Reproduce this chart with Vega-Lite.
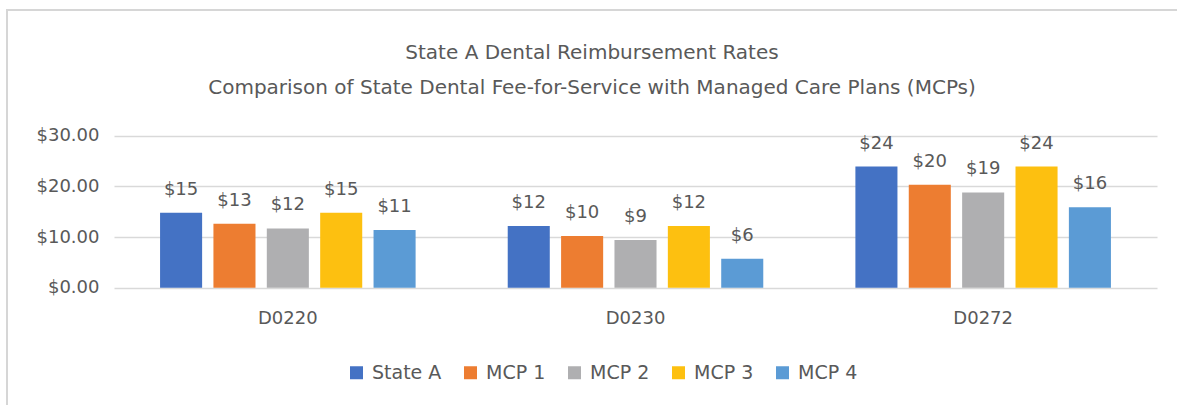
{
  "$schema": "https://vega.github.io/schema/vega-lite/v6.json",
  "width": 1170,
  "height": 395,
  "autosize": {"type": "none"},
  "padding": {"left": 7, "top": 10, "right": 0, "bottom": 0},
  "background": "white",
  "config": {
    "font": "DejaVu Sans",
    "view": {"stroke": "#d6d6d6", "strokeWidth": 2, "strokeDash": [1170, 1565, 400]}
  },
  "title": {
    "text": "State A Dental Reimbursement Rates",
    "subtitle": "Comparison of State Dental Fee-for-Service with Managed Care Plans (MCPs)",
    "anchor": "middle",
    "frame": "group",
    "font": "DejaVu Sans",
    "subtitleFont": "DejaVu Sans",
    "fontSize": 20,
    "subtitleFontSize": 20,
    "fontWeight": "normal",
    "color": "#595959",
    "subtitleColor": "#595959",
    "subtitlePadding": 15,
    "offset": -88
  },
  "data": {
    "values": [
      {"code": "D0220", "series": "State A", "value": 14.8},
      {"code": "D0220", "series": "MCP 1", "value": 12.6},
      {"code": "D0220", "series": "MCP 2", "value": 11.7},
      {"code": "D0220", "series": "MCP 3", "value": 14.8},
      {"code": "D0220", "series": "MCP 4", "value": 11.4},
      {"code": "D0230", "series": "State A", "value": 12.2},
      {"code": "D0230", "series": "MCP 1", "value": 10.2},
      {"code": "D0230", "series": "MCP 2", "value": 9.4},
      {"code": "D0230", "series": "MCP 3", "value": 12.2},
      {"code": "D0230", "series": "MCP 4", "value": 5.7},
      {"code": "D0272", "series": "State A", "value": 23.9},
      {"code": "D0272", "series": "MCP 1", "value": 20.3},
      {"code": "D0272", "series": "MCP 2", "value": 18.8},
      {"code": "D0272", "series": "MCP 3", "value": 23.9},
      {"code": "D0272", "series": "MCP 4", "value": 15.9}
    ]
  },
  "encoding": {
    "x": {
      "field": "code",
      "type": "nominal",
      "sort": ["D0220", "D0230", "D0272"],
      "scale": {"range": [107, 1150], "paddingInner": 0, "paddingOuter": 0},
      "axis": {
        "title": null,
        "domain": false,
        "ticks": false,
        "grid": false,
        "labelAngle": 0,
        "labelFontSize": 18,
        "labelColor": "#595959",
        "labelPadding": 22,
        "offset": -117.3
      }
    },
    "xOffset": {
      "field": "series",
      "type": "nominal",
      "sort": ["State A", "MCP 1", "MCP 2", "MCP 3", "MCP 4"],
      "scale": {"paddingInner": 0.212, "paddingOuter": 0.863}
    },
    "y": {
      "field": "value",
      "type": "quantitative",
      "scale": {"domain": [0, 30], "range": [277.7, 125.7]},
      "axis": {
        "title": null,
        "values": [0, 10, 20, 30],
        "format": "$.2f",
        "domain": false,
        "ticks": false,
        "grid": true,
        "gridColor": "#d9d9d9",
        "gridWidth": 1.5,
        "labelFontSize": 18,
        "labelColor": "#595959",
        "labelPadding": 15,
        "offset": -107
      }
    }
  },
  "layer": [
    {
      "mark": {"type": "bar"},
      "encoding": {
        "color": {
          "field": "series",
          "type": "nominal",
          "scale": {
            "domain": ["State A", "MCP 1", "MCP 2", "MCP 3", "MCP 4"],
            "range": ["#4472C4", "#ED7D31", "#AFAFB1", "#FDC010", "#5B9BD5"]
          },
          "legend": {
            "title": null,
            "orient": "none",
            "legendX": 340,
            "legendY": 353,
            "direction": "horizontal",
            "symbolType": "square",
            "symbolSize": 169,
            "symbolStrokeWidth": 0,
            "labelFontSize": 19,
            "labelColor": "#595959",
            "labelOffset": 6,
            "columnPadding": 19,
            "padding": 0
          }
        }
      }
    },
    {
      "mark": {"type": "text", "baseline": "alphabetic", "dy": -18, "fontSize": 18, "color": "#595959"},
      "encoding": {
        "text": {"field": "value", "type": "quantitative", "format": "$.0f"}
      }
    }
  ]
}
